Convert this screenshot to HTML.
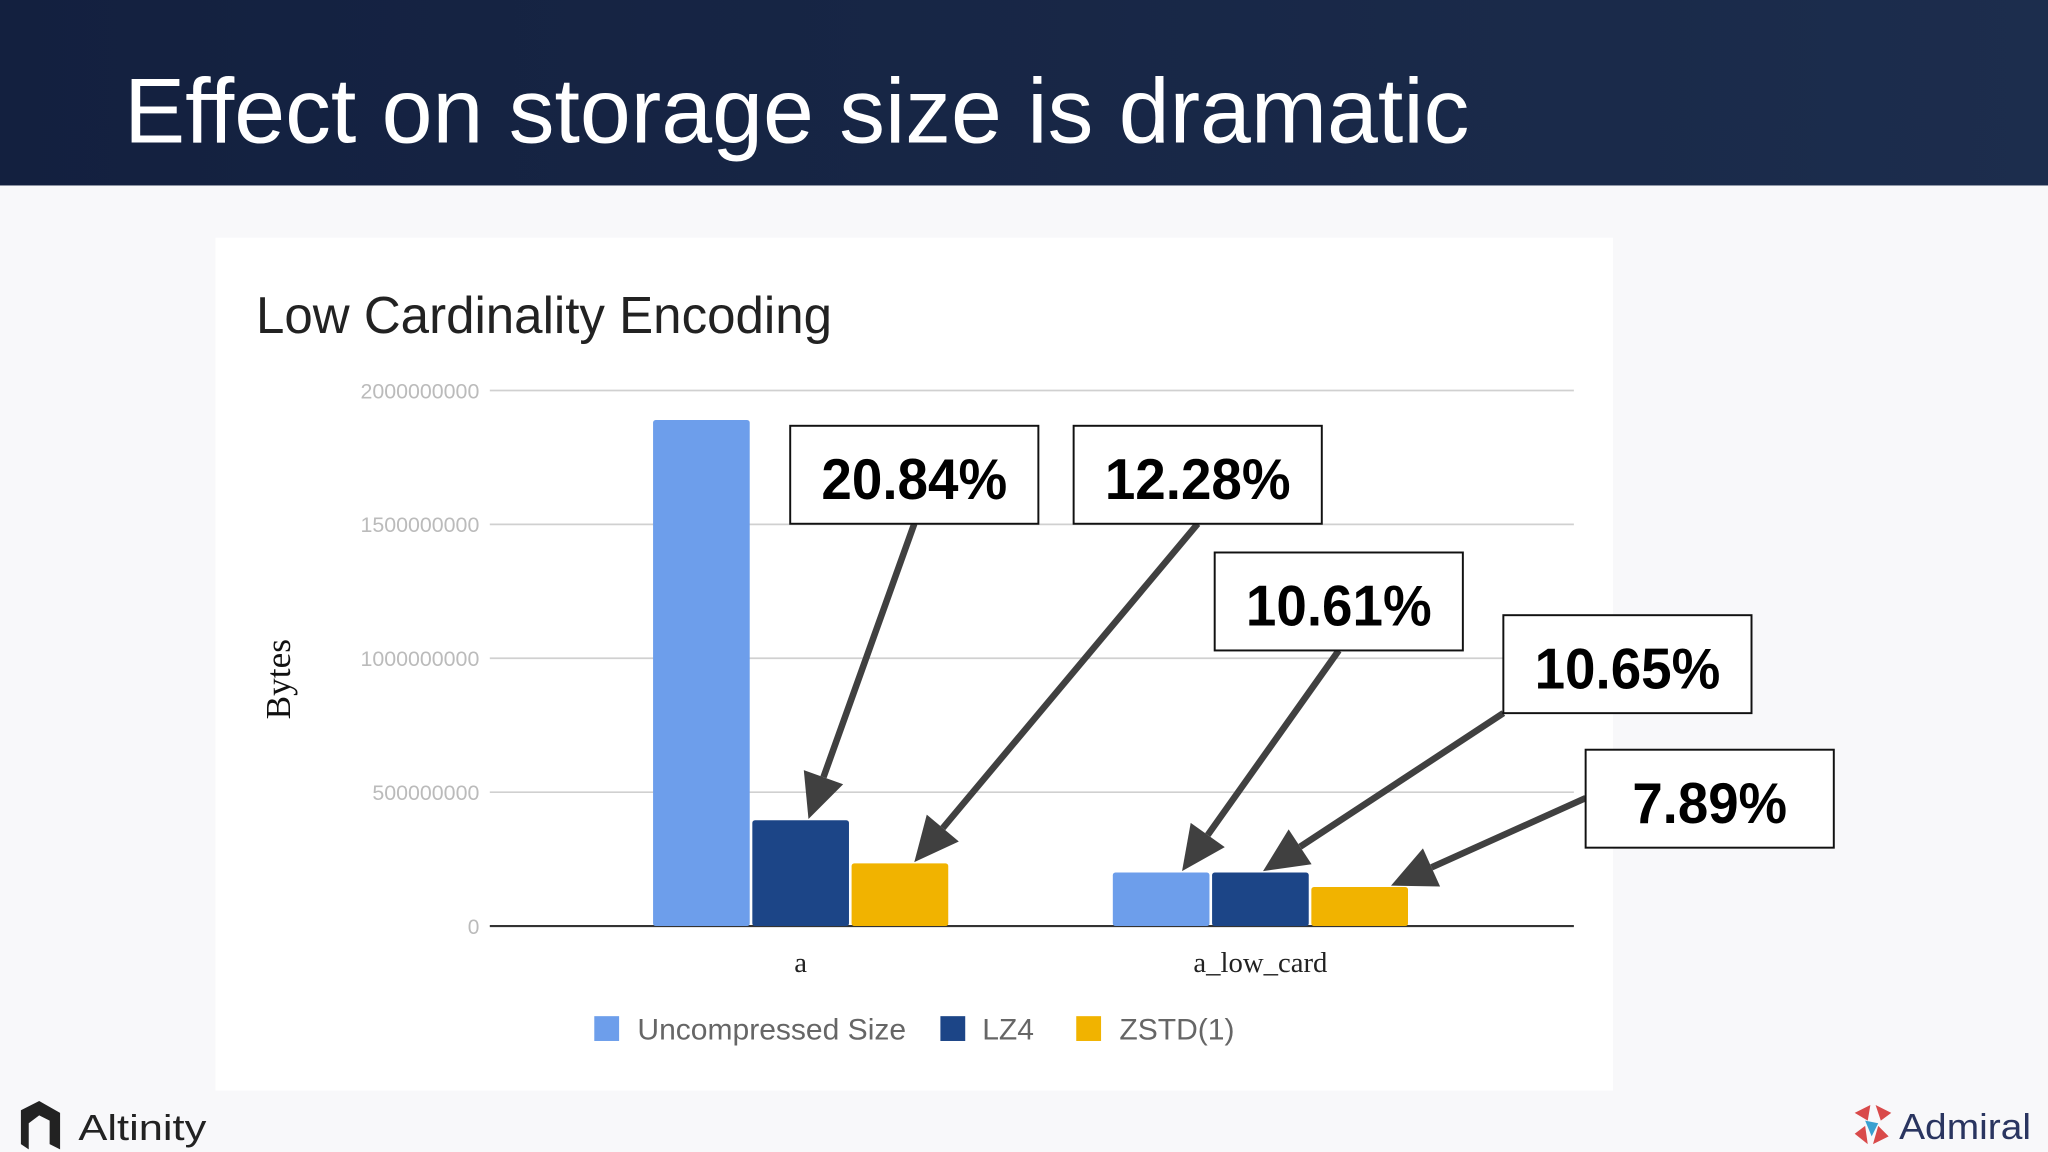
<!DOCTYPE html>
<html><head><meta charset="utf-8"><style>
html,body{margin:0;padding:0;width:2048px;height:1152px;overflow:hidden;background:#f8f8fa}
svg{display:block}
</style></head><body>
<svg id="s" width="2048" height="1152" viewBox="0 0 1568 882" xmlns="http://www.w3.org/2000/svg">
<defs>
<linearGradient id="hg" x1="0" x2="1" y1="0" y2="0"><stop offset="0" stop-color="#13203f"/><stop offset="1" stop-color="#1c2d4d"/></linearGradient>
</defs>
<rect x="0" y="0" width="1568" height="882" fill="#f8f8fa"/>
<rect x="0" y="0" width="1568" height="142" fill="url(#hg)"/>
<text x="95" y="109" font-family="Liberation Sans, sans-serif" font-size="70" fill="#ffffff" textLength="1030" lengthAdjust="spacingAndGlyphs">Effect on storage size is dramatic</text>
<rect x="165" y="182" width="1070" height="653" fill="#ffffff"/>
<text x="196" y="255" font-family="Liberation Sans, sans-serif" font-size="40" fill="#222" textLength="441" lengthAdjust="spacingAndGlyphs">Low Cardinality Encoding</text>
<text transform="translate(222,520) rotate(-90)" text-anchor="middle" font-family="Liberation Serif, serif" font-size="27" fill="#111">Bytes</text>
<g id="grid"></g><g id="bars"></g><g id="xl"></g><g id="ann"></g>
<g font-family="Liberation Sans, sans-serif" font-size="23" fill="#666">
<rect x="455" y="778" width="19" height="19" fill="#6d9eeb"/>
<text x="488" y="796">Uncompressed Size</text>
<rect x="720" y="778" width="19" height="19" fill="#1c4587"/>
<text x="752" y="796">LZ4</text>
<rect x="824" y="778" width="19" height="19" fill="#f1b300"/>
<text x="857" y="796">ZSTD(1)</text>
</g>
<g>
<path d="M16 850 L30 843 L46 852 L46 880 L38 876 L38 858 L30 854 L22 860 L22 880 L16 876 Z" fill="#222"/>
<text x="60" y="873" font-family="Liberation Sans, sans-serif" font-size="28" fill="#222" textLength="98" lengthAdjust="spacingAndGlyphs">Altinity</text>
</g>
<g>
<path d="M1420 852 L1432 846 L1430 858 Z M1436 846 L1448 852 L1440 858 Z M1420 868 L1428 862 L1430 876 Z M1438 862 L1446 870 L1434 876 Z" fill="#d94a4a"/>
<path d="M1428 858 L1438 860 L1433 870 Z" fill="#3aa0d0"/>
<text x="1454" y="872" font-family="Liberation Sans, sans-serif" font-size="28" fill="#2a3560" textLength="101" lengthAdjust="spacingAndGlyphs">Admiral</text>
</g>
</svg>
<script>
const categories = ["a", "a_low_card"];
const uncompressed = [1890000000, 200000000];
const lz4 = [395000000, 200000000];
const zstd = [234000000, 146000000];
const yTicks = [0, 500000000, 1000000000, 1500000000, 2000000000];
const annLabels = ["20.84%", "12.28%", "10.61%", "10.65%", "7.89%"];
const annSeries = [1, 2, 0, 1, 2];
const annCategory = [0, 0, 1, 1, 1];

const NS = "http://www.w3.org/2000/svg";
const X0 = 375, X1 = 1205, Y0 = 709, Y1 = 299, YMAX = 2000000000;
const y = v => Y0 - (v / YMAX) * (Y0 - Y1);
const bandStart = 437, bandW = 352;
const cx = i => bandStart + bandW * (i + 0.5);
const barW = 74, barGap = 2;
const barX = (ci, si) => cx(ci) - 1.5 * barW - barGap + si * (barW + barGap);
const series = [uncompressed, lz4, zstd];
const colors = ["#6d9eeb", "#1c4587", "#f1b300"];
const snames = ["uncompressed", "lz4", "zstd"];
function mk(tag, attrs, parent) { const e = document.createElementNS(NS, tag); for (const k in attrs) e.setAttribute(k, attrs[k]); parent.appendChild(e); return e; }

const grid = document.getElementById("grid");
yTicks.forEach((t, i) => {
  const ln = mk("line", {x1: X0, x2: X1, y1: y(t), y2: y(t), stroke: t === 0 ? "#333" : "#d0d0d0", "stroke-width": t === 0 ? 1.6 : 1.3}, grid);
  
  
  const s = String(t);
  const attrs = {x: 367, y: y(t) + 6, "text-anchor": "end", "font-family": "Liberation Sans, sans-serif", "font-size": 16, fill: "#bbb"};
  if (s.length > 1) { attrs.textLength = s.length * 9.1; attrs.lengthAdjust = "spacingAndGlyphs"; }
  const tx = mk("text", attrs, grid);
  tx.textContent = s;
  
  
});

const bars = document.getElementById("bars");
categories.forEach((c, ci) => {
  series.forEach((s, si) => {
    const r = mk("rect", {x: barX(ci, si), y: y(s[ci]), width: barW, height: Y0 - y(s[ci]), fill: colors[si], rx: 2}, bars);
    
    
  });
  const t = mk("text", {x: cx(ci), y: 744, "text-anchor": "middle", "font-family": "Liberation Serif, serif", "font-size": 22, fill: "#222"}, document.getElementById("xl"));
  t.textContent = c;
  
  
});

const boxes = [[605,326],[822,326],[930,423],[1151,471],[1214,574]];
const tails = [[700,401],[917,401],[1025,498],[1151,546],[1214,611]];
const tipDx = [43, 48, 53, 39, 61];
const ann = document.getElementById("ann");
annLabels.forEach((lab, i) => {
  const [bx, by] = boxes[i];
  const g = mk("g", {}, ann);
  
  
  const tipX = barX(annCategory[i], annSeries[i]) + tipDx[i];
  const tipY = y(series[annSeries[i]][annCategory[i]]) - 1;
  const [sx, sy] = tails[i];
  const dx = tipX - sx, dy = tipY - sy, L = Math.hypot(dx, dy), ux = dx / L, uy = dy / L;
  const hl = 34, hw = 16;
  const bxp = tipX - ux * hl, byp = tipY - uy * hl;
  const ln = mk("line", {x1: sx, y1: sy, x2: bxp, y2: byp, stroke: "#404040", "stroke-width": 5}, g);
  
  
  const hd = mk("polygon", {points: `${tipX},${tipY} ${bxp - uy*hw},${byp + ux*hw} ${bxp + uy*hw},${byp - ux*hw}`, fill: "#404040"}, g);
  
  
  const r = mk("rect", {x: bx, y: by, width: 190, height: 75, fill: "#fff", stroke: "#111", "stroke-width": 1.5}, g);
  
  
  const t = mk("text", {x: bx + 95, y: by + 56, "text-anchor": "middle", "font-family": "Liberation Sans, sans-serif", "font-size": 44, "font-weight": "bold", fill: "#000", textLength: lab.length * 23.7, lengthAdjust: "spacingAndGlyphs"}, g);
  t.textContent = lab;
  
  
});
</script>
</body></html>
